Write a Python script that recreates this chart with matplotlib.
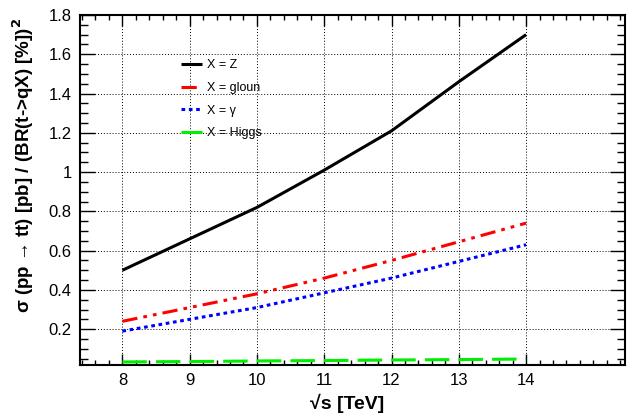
import matplotlib.pyplot as plt
from matplotlib.ticker import MultipleLocator

plt.rcParams['font.family'] = ['Liberation Sans', 'DejaVu Sans']

# centre-of-mass energies and normalised cross sections per channel
sqrt_s = [8, 9, 10, 11, 12, 13, 14]
xs_z = [0.50, 0.66, 0.82, 1.01, 1.21, 1.46, 1.70]
xs_gluon = [0.24, 0.31, 0.38, 0.46, 0.55, 0.645, 0.74]
xs_gamma = [0.19, 0.25, 0.31, 0.385, 0.46, 0.545, 0.63]
xs_higgs = [0.033, 0.035, 0.038, 0.040, 0.043, 0.045, 0.048]

fig = plt.figure(figsize=(6.39, 4.15), dpi=100)
ax = fig.add_axes([80 / 639, 1 - 364.5 / 415, 545 / 639, 349.5 / 415])

ax.plot(sqrt_s, xs_z, color='black', lw=2.2, solid_capstyle='butt', label='X = Z')
ax.plot(sqrt_s, xs_gluon, color='red', lw=2.2, dashes=(5, 2, 1.2, 2, 1.2, 2),
        label='X = gloun')
ax.plot(sqrt_s, xs_gamma, color='blue', lw=2.2, dashes=(1.2, 1.2), label='X = γ')
ax.plot(sqrt_s, xs_higgs, color='#00ee00', lw=2.2, dashes=(8, 3), label='X = Higgs')

ax.set_xlim(7.37, 15.47)
ax.set_ylim(0.02, 1.8)
ax.xaxis.set_minor_locator(MultipleLocator(0.2))
ax.yaxis.set_minor_locator(MultipleLocator(0.05))
ax.set_xticks([8, 9, 10, 11, 12, 13, 14])
ax.set_yticks([0.2, 0.4, 0.6, 0.8, 1.0, 1.2, 1.4, 1.6, 1.8])
ax.set_yticklabels(['0.2', '0.4', '0.6', '0.8', '1', '1.2', '1.4', '1.6', '1.8'])
ax.tick_params(which='both', direction='in', top=True, right=True, labelsize=12, width=1)
ax.tick_params(axis='y', which='major', length=11, pad=6)
ax.tick_params(axis='y', which='minor', length=5.5)
ax.tick_params(axis='x', which='major', length=8, pad=6)
ax.tick_params(axis='x', which='minor', length=3.8)
for sp in ax.spines.values():
    sp.set_linewidth(1.5)

ax.grid(True, which='major', color='black', ls=(0, (1, 2)), lw=0.7)

ax.set_xlabel('√s [TeV]', fontsize=14, fontweight='bold')
ax.xaxis.set_label_coords(0.49, -0.085)
ax.set_ylabel(r'σ (pp → tt) [pb] / (BR(t->qX) [%])$^{\mathbf{2}}$',
              fontsize=13.5, fontweight='bold')
ax.yaxis.set_label_coords(-0.08, 0.57)

leg = ax.legend(loc='upper left', bbox_to_anchor=(0.165, 0.905), frameon=False,
                fontsize=9, handlelength=1.7, handletextpad=0.4, labelspacing=0.85)

fig.savefig('out.png', dpi=100)
